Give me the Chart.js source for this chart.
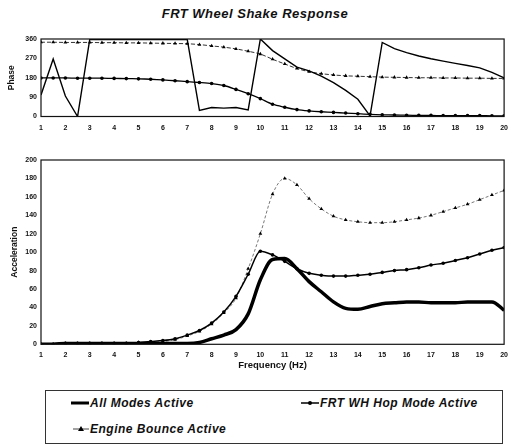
<!DOCTYPE html>
<html lang="en">
  <head>
    <meta charset="UTF-8" />
    <title>FRT Wheel Shake Response</title>
    <script src="https://cdn.jsdelivr.net/npm/chart.js"></script>
    <style>
      body {
        margin: 0;
        width: 515px;
        height: 446px;
        background: #fff;
        position: relative;
        overflow: hidden;
        font-family: "Liberation Sans", Arial, sans-serif;
      }
      .title {
        position: absolute;
        left: 135px;
        top: 6px;
        width: 240px;
        text-align: center;
        font-size: 13px;
        letter-spacing: 0.5px;
        font-weight: bold;
        font-style: italic;
        color: #111;
      }
      #top {
        position: absolute;
        left: 0;
        top: 30px;
        width: 515px;
        height: 110px;
      }
      #bottom {
        position: absolute;
        left: 0;
        top: 150px;
        width: 515px;
        height: 225px;
      }
      .legend {
        position: absolute;
        left: 45px;
        top: 390px;
        width: 456px;
        height: 52px;
        border: 1px solid #333;
        font-size: 12px;
        letter-spacing: 0.5px;
        font-weight: bold;
        font-style: italic;
        color: #111;
      }
      .legend div {
        position: absolute;
        display: flex;
        align-items: center;
        white-space: nowrap;
      }
    </style>
  </head>
  <body>
    <div class="title">FRT Wheel Shake Response</div>
    <div id="top"><canvas id="phaseChart"></canvas></div>
    <div id="bottom"><canvas id="accelChart"></canvas></div>
    <div class="legend">
      <div style="left: 24px; top: 5px">
        <svg width="20" height="8"><line x1="1" y1="4" x2="19" y2="4" stroke="#000" stroke-width="3" /></svg>All Modes Active
      </div>
      <div style="left: 254px; top: 5px">
        <svg width="20" height="8"><line x1="1" y1="4" x2="19" y2="4" stroke="#000" stroke-width="1.5" /><circle cx="10" cy="4" r="2" fill="#000" /></svg>FRT WH Hop Mode Active
      </div>
      <div style="left: 26px; top: 31px">
        <svg width="18" height="8"><line x1="1" y1="4" x2="17" y2="4" stroke="#444" stroke-width="1" /><polygon points="9,1 12,6 6,6" fill="#000" /></svg>Engine Bounce Active
      </div>
    </div>

    <script>
      // frequency steps (Hz)
      const freq = [
        1, 1.5, 2, 2.5, 3, 3.5, 4, 4.5, 5, 5.5, 6, 6.5, 7, 7.5, 8, 8.5, 9, 9.5,
        10, 10.5, 11, 11.5, 12, 12.5, 13, 13.5, 14, 14.5, 15, 15.5, 16, 16.5,
        17, 17.5, 18, 18.5, 19, 19.5, 20,
      ];

      // phase (deg)
      const phaseAll = [
        100, 267, 95, 0, 358, 358, 358, 358, 358, 358, 358, 358, 358, 28, 42,
        39, 42, 31, 360, 306, 268, 229, 212, 188, 157, 121, 80, 3, 344, 315,
        297, 281, 268, 257, 247, 237, 226, 205, 179,
      ];
      const phaseHop = [
        179, 179, 179, 178, 178, 178, 177, 176, 175, 173, 170, 166, 162, 158,
        153, 144, 126, 106, 83, 57, 43, 32, 26, 22, 19, 16, 13, 10, 8, 7, 6, 5,
        5, 4, 4, 4, 4, 3, 3,
      ];
      const phaseEngine = [
        345, 345, 344, 344, 344, 343, 343, 342, 342, 341, 340, 339, 338, 334,
        328, 322, 314, 303, 290, 266, 244, 223, 208, 199, 193, 189, 187, 185,
        183, 182, 181, 180, 180, 179, 179, 178, 178, 177, 177,
      ];

      // acceleration
      const accAll = [
        0, 0, 1, 1, 1, 1, 1, 1, 1, 1, 1, 1, 1, 2, 6, 10, 16, 33, 70, 92, 93, 82,
        68, 57, 46, 39, 38, 41, 44, 45, 46, 46, 45, 45, 45, 46, 46, 46, 37,
      ];
      const accHop = [
        0, 0, 1, 1, 1, 1, 1, 1, 2, 3, 4, 6, 10, 15, 23, 35, 52, 76, 101, 97, 90,
        82, 77, 75, 74, 74, 75, 76, 78, 80, 81, 83, 86, 88, 91, 94, 98, 102,
        105,
      ];
      const accEngine = [
        0, 0, 1, 1, 1, 1, 1, 1, 2, 2, 3, 5, 9, 14, 22, 34, 50, 82, 120, 163,
        180, 173, 158, 147, 139, 135, 133, 132, 132, 133, 135, 137, 140, 144,
        148, 152, 157, 162, 167,
      ];

      const pts = (vals) => freq.map((f, i) => ({ x: f, y: vals[i] }));
      const tickFont = { family: "Liberation Sans", size: 7, weight: "bold" };
      const titleFont = { family: "Liberation Sans", size: 8.5, weight: "bold" };

      // box round the plot area
      const frame = {
        id: "frame",
        afterDraw(chart) {
          const a = chart.chartArea;
          const ctx = chart.ctx;
          ctx.save();
          ctx.strokeStyle = "#111";
          ctx.lineWidth = 1.2;
          ctx.strokeRect(a.left, a.top, a.right - a.left, a.bottom - a.top);
          ctx.restore();
        },
      };

      function xAxis(h, title) {
        return {
          type: "linear",
          min: 1,
          max: 20,
          grid: { display: false, drawTicks: false },
          border: { display: false },
          ticks: { stepSize: 1, font: tickFont, color: "#111", padding: 7 },
          title: title
            ? {
                display: true,
                text: title,
                font: { family: "Liberation Sans", size: 9.5, weight: "bold" },
                color: "#111",
                padding: { top: 0, bottom: 0 },
              }
            : { display: false },
          afterFit: (s) => {
            s.height = h;
          },
        };
      }

      function yAxis(max, step, title, pad) {
        return {
          min: 0,
          max: max,
          grid: { display: false, drawTicks: false },
          border: { display: false },
          ticks: { stepSize: step, font: tickFont, color: "#111", padding: 4 },
          title: {
            display: true,
            text: title,
            font: titleFont,
            color: "#111",
            padding: { top: pad, bottom: 0 },
          },
          afterFit: (s) => {
            s.width = 41;
          },
        };
      }

      const common = {
        responsive: true,
        maintainAspectRatio: false,
        animation: false,
        plugins: { legend: { display: false }, tooltip: { enabled: false } },
      };

      new Chart(document.getElementById("phaseChart"), {
        type: "line",
        data: {
          datasets: [
            {
              label: "All Modes Active",
              data: pts(phaseAll),
              borderColor: "#000",
              borderWidth: 1.4,
              pointRadius: 0,
              tension: 0,
            },
            {
              label: "FRT WH Hop Mode Active",
              data: pts(phaseHop),
              borderColor: "#000",
              borderWidth: 1.3,
              pointRadius: 1.8,
              pointBackgroundColor: "#000",
              pointBorderWidth: 0,
              tension: 0.3,
            },
            {
              label: "Engine Bounce Active",
              data: pts(phaseEngine),
              borderColor: "#333",
              borderWidth: 1,
              borderDash: [4, 2],
              pointStyle: "triangle",
              pointRadius: 2.2,
              pointBackgroundColor: "#000",
              pointBorderWidth: 0,
              tension: 0.3,
            },
          ],
        },
        options: {
          ...common,
          layout: { padding: { top: 9, right: 5, left: 0, bottom: 5.5 } },
          scales: {
            x: xAxis(18),
            y: yAxis(360, 90, "Phase", 7),
          },
        },
        plugins: [frame],
      });

      new Chart(document.getElementById("accelChart"), {
        type: "line",
        data: {
          datasets: [
            {
              label: "All Modes Active",
              data: pts(accAll),
              borderColor: "#000",
              borderWidth: 3.5,
              pointRadius: 0,
              cubicInterpolationMode: "monotone",
            },
            {
              label: "FRT WH Hop Mode Active",
              data: pts(accHop),
              borderColor: "#000",
              borderWidth: 1.5,
              pointRadius: 1.8,
              pointBackgroundColor: "#000",
              pointBorderWidth: 0,
              cubicInterpolationMode: "monotone",
            },
            {
              label: "Engine Bounce Active",
              data: pts(accEngine),
              borderColor: "#555",
              borderWidth: 0.8,
              borderDash: [3, 2],
              pointStyle: "triangle",
              pointRadius: 2.2,
              pointBackgroundColor: "#000",
              pointBorderWidth: 0,
              cubicInterpolationMode: "monotone",
            },
          ],
        },
        options: {
          ...common,
          layout: { padding: { top: 10, right: 5, left: 0, bottom: 3.7 } },
          scales: {
            x: xAxis(27, "Frequency (Hz)"),
            y: yAxis(200, 20, "Acceleration", 10),
          },
        },
        plugins: [frame],
      });
    </script>
  </body>
</html>
